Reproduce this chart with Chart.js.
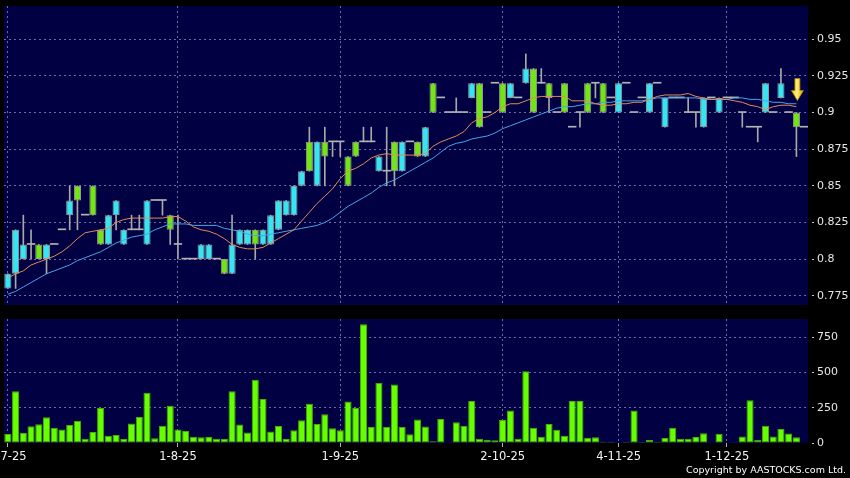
<!DOCTYPE html>
<html>
<head>
<meta charset="utf-8">
<title>Price and volume</title>
<script src="https://cdn.jsdelivr.net/npm/chart.js@4.4.1/dist/chart.umd.min.js"></script>
<style>
  html, body { margin: 0; padding: 0; background: #000; }
  #wrap { position: relative; width: 850px; height: 478px; background: #000; overflow: hidden; }
  #priceChart { position: absolute; left: 0; top: 0; }
  #volumeChart { position: absolute; left: 0; top: 312px; }
  #copyright { position: absolute; right: 4px; top: 464px; line-height: 12px; color: #fff;
               font: 9.5px 'DejaVu Sans', sans-serif; white-space: nowrap; }
</style>
</head>
<body>
<div id="wrap">
  <canvas id="priceChart" width="850" height="312"></canvas>
  <canvas id="volumeChart" width="850" height="166"></canvas>
  <div id="copyright">Copyright by AASTOCKS.com Ltd.</div>
</div>
<script>
// Daily candles (one slot per trading session)
const opens = [
  0.78, 0.79, 0.80, 0.81, 0.81, 0.80, 0.81, 0.82, 0.83, 0.85,
  0.83, 0.85, 0.82, 0.81, 0.83, 0.81, 0.82, 0.82, 0.81, 0.84,
  0.84, 0.83, 0.81, 0.80, 0.80, 0.80, 0.80, 0.80, 0.80, 0.79,
  0.81, 0.81, 0.82, 0.81, 0.81, 0.82, 0.83, 0.83, 0.85, 0.88,
  0.85, 0.88, 0.88, 0.88, 0.87, 0.88, 0.88, 0.88, 0.86, 0.86,
  0.88, 0.86, 0.88, 0.88, 0.87, 0.92, 0.91, 0.90, 0.90, 0.90,
  0.91, 0.92, 0.90, 0.92, 0.92, 0.91, 0.91, 0.92, 0.93, 0.92,
  0.92, 0.90, 0.92, 0.89, 0.90, 0.92, 0.92, 0.92, 0.91, 0.90,
  0.92, 0.90, 0.91, 0.90, 0.92, 0.89, 0.91, 0.91, 0.90, 0.90,
  0.89, 0.91, 0.90, 0.91, 0.91, 0.90, 0.89, 0.89, 0.90, 0.90,
  0.91, 0.90, 0.90, 0.89
];
const closes = [
  0.79, 0.82, 0.81, 0.81, 0.80, 0.81, 0.81, 0.82, 0.84, 0.84,
  0.83, 0.83, 0.81, 0.83, 0.84, 0.82, 0.82, 0.82, 0.84, 0.84,
  0.84, 0.82, 0.81, 0.80, 0.80, 0.81, 0.81, 0.80, 0.79, 0.81,
  0.82, 0.82, 0.81, 0.82, 0.83, 0.84, 0.84, 0.85, 0.86, 0.86,
  0.88, 0.87, 0.88, 0.88, 0.85, 0.87, 0.88, 0.88, 0.87, 0.86,
  0.86, 0.88, 0.88, 0.87, 0.89, 0.90, 0.91, 0.90, 0.90, 0.90,
  0.92, 0.89, 0.90, 0.92, 0.90, 0.92, 0.91, 0.93, 0.90, 0.92,
  0.91, 0.90, 0.90, 0.89, 0.90, 0.90, 0.92, 0.90, 0.91, 0.92,
  0.92, 0.90, 0.91, 0.92, 0.92, 0.91, 0.91, 0.91, 0.90, 0.90,
  0.91, 0.91, 0.91, 0.91, 0.91, 0.90, 0.89, 0.89, 0.92, 0.90,
  0.92, 0.90, 0.89, 0.89
];
const highs = [
  0.79, 0.82, 0.83, 0.82, 0.81, 0.81, 0.81, 0.82, 0.85, 0.85,
  0.83, 0.85, 0.82, 0.83, 0.84, 0.82, 0.83, 0.83, 0.84, 0.84,
  0.84, 0.83, 0.83, 0.80, 0.80, 0.81, 0.81, 0.80, 0.80, 0.83,
  0.82, 0.82, 0.82, 0.82, 0.83, 0.84, 0.84, 0.85, 0.86, 0.89,
  0.88, 0.89, 0.88, 0.88, 0.87, 0.88, 0.89, 0.89, 0.87, 0.89,
  0.88, 0.88, 0.88, 0.88, 0.89, 0.92, 0.91, 0.90, 0.91, 0.90,
  0.92, 0.92, 0.90, 0.92, 0.92, 0.92, 0.91, 0.94, 0.93, 0.93,
  0.92, 0.90, 0.92, 0.89, 0.90, 0.92, 0.92, 0.92, 0.91, 0.92,
  0.92, 0.90, 0.91, 0.92, 0.92, 0.91, 0.91, 0.91, 0.91, 0.90,
  0.91, 0.91, 0.91, 0.91, 0.91, 0.90, 0.89, 0.89, 0.92, 0.90,
  0.93, 0.90, 0.90, 0.89
];
const lows = [
  0.78, 0.78, 0.80, 0.80, 0.80, 0.79, 0.81, 0.82, 0.82, 0.82,
  0.83, 0.83, 0.81, 0.81, 0.82, 0.81, 0.82, 0.82, 0.81, 0.84,
  0.83, 0.81, 0.80, 0.80, 0.80, 0.80, 0.80, 0.80, 0.79, 0.79,
  0.81, 0.81, 0.80, 0.81, 0.81, 0.82, 0.83, 0.83, 0.85, 0.86,
  0.85, 0.85, 0.87, 0.87, 0.85, 0.87, 0.88, 0.88, 0.86, 0.85,
  0.85, 0.86, 0.88, 0.87, 0.87, 0.90, 0.91, 0.90, 0.90, 0.90,
  0.91, 0.89, 0.90, 0.92, 0.90, 0.91, 0.91, 0.92, 0.90, 0.92,
  0.90, 0.90, 0.90, 0.89, 0.89, 0.90, 0.91, 0.90, 0.91, 0.90,
  0.92, 0.90, 0.91, 0.90, 0.92, 0.89, 0.91, 0.91, 0.90, 0.89,
  0.89, 0.91, 0.90, 0.91, 0.91, 0.89, 0.89, 0.88, 0.90, 0.90,
  0.91, 0.90, 0.87, 0.89
];
// moving averages as drawn (orange = short, blue = long)
const maShort = [
  0.787, 0.790, 0.792, 0.796, 0.798, 0.800, 0.802, 0.805, 0.809, 0.814,
  0.818, 0.819, 0.820, 0.821, 0.825, 0.827, 0.828, 0.828, 0.828, 0.828,
  0.828, 0.829, 0.829, 0.826, 0.822, 0.820, 0.819, 0.817, 0.814, 0.810,
  0.808, 0.807, 0.807, 0.808, 0.811, 0.814, 0.817, 0.820, 0.826, 0.832,
  0.838, 0.843, 0.848, 0.855, 0.860, 0.862, 0.865, 0.869, 0.871, 0.872,
  0.871, 0.871, 0.871, 0.871, 0.872, 0.877, 0.880, 0.882, 0.884, 0.887,
  0.893, 0.896, 0.897, 0.900, 0.904, 0.906, 0.906, 0.908, 0.910, 0.911,
  0.911, 0.911, 0.911, 0.908, 0.908, 0.908, 0.906, 0.905, 0.905, 0.906,
  0.906, 0.907, 0.907, 0.909, 0.911, 0.912, 0.912, 0.912, 0.913, 0.911,
  0.910, 0.909, 0.909, 0.909, 0.908, 0.907, 0.905, 0.904, 0.902, 0.904,
  0.905, 0.905, 0.904, null
];
const maLong = [
  0.776, 0.778, 0.781, 0.784, 0.787, 0.790, 0.792, 0.794, 0.796, 0.799,
  0.801, 0.803, 0.805, 0.808, 0.811, 0.813, 0.815, 0.816, 0.817, 0.820,
  0.822, 0.824, 0.824, 0.824, 0.823, 0.823, 0.823, 0.823, 0.821, 0.820,
  0.819, 0.817, 0.816, 0.816, 0.817, 0.818, 0.819, 0.820, 0.821, 0.822,
  0.823, 0.825, 0.828, 0.832, 0.836, 0.839, 0.842, 0.845, 0.849, 0.852,
  0.854, 0.857, 0.860, 0.863, 0.866, 0.869, 0.873, 0.877, 0.879, 0.880,
  0.882, 0.883, 0.884, 0.886, 0.889, 0.891, 0.893, 0.895, 0.897, 0.899,
  0.901, 0.903, 0.904, 0.904, 0.905, 0.906, 0.906, 0.907, 0.907, 0.908,
  0.908, 0.908, 0.908, 0.909, 0.910, 0.910, 0.910, 0.910, 0.910, 0.910,
  0.909, 0.909, 0.909, 0.909, 0.910, 0.910, 0.909, 0.909, 0.908, 0.907,
  0.907, 0.906, 0.906, null
];
// volume in thousands of shares
const volumes = [
  64, 368, 71, 119, 133, 183, 109, 95, 128, 157,
  31, 78, 249, 52, 57, 28, 138, 185, 356, 33,
  123, 264, 95, 85, 45, 40, 43, 31, 28, 368,
  131, 74, 449, 313, 81, 121, 28, 90, 161, 278,
  135, 204, 104, 90, 294, 249, 843, 114, 427, 114,
  415, 114, 62, 166, 117, 12, 171, 3, 148, 122,
  298, 31, 23, 19, 164, 230, 31, 509, 108, 45,
  134, 94, 52, 298, 298, 38, 40, 9, 9, 2,
  9, 230, 7, 21, 9, 35, 108, 31, 31, 42,
  70, 0, 66, 4, 1, 47, 303, 23, 122, 47,
  99, 68, 40, 0
];
// date labels under the volume panel (slot index -> text)
const tickIndex = [0, 22, 43, 64, 79, 93];
const tickLabels = ['2-7-25', '1-8-25', '1-9-25', '2-10-25', '4-11-25', '1-12-25'];
const priceTicks = [0.775, 0.8, 0.825, 0.85, 0.875, 0.9, 0.925, 0.95];
const volumeTicks = [0, 250, 500, 750];

const slots = opens.map((_, i) => String(i));

const NAVY = '#000042';
const GRID = '#6a6aa6';
const UP = '#35e6f2';
const DOWN = '#74e514';

Chart.defaults.font.family = "'DejaVu Sans', sans-serif";
Chart.defaults.animation = false;

const plotBg = {
    id: 'plotBg',
    beforeDraw(chart) {
        const { ctx, chartArea: a } = chart;
        ctx.save();
        ctx.fillStyle = NAVY;
        ctx.fillRect(a.left, a.top, a.right - a.left, a.bottom - a.top);
        ctx.restore();
    }
};

// yellow arrow over the last traded candle
const lastArrow = {
    id: 'lastArrow',
    afterDatasetsDraw(chart) {
        let i = volumes.length - 1;
        while (i > 0 && !volumes[i]) i--;
        const { ctx, scales } = chart;
        const x = scales.x.getPixelForValue(i) + 1;
        const tip = scales.y.getPixelForValue(highs[i]) - 12;
        const top = tip - 22;
        const neck = tip - 10;
        ctx.save();
        const g = ctx.createLinearGradient(x - 6, 0, x + 6, 0);
        g.addColorStop(0, '#f5c000');
        g.addColorStop(0.45, '#fff27a');
        g.addColorStop(1, '#e0a000');
        ctx.beginPath();
        ctx.moveTo(x - 2.5, top);
        ctx.lineTo(x + 2.5, top);
        ctx.lineTo(x + 2.5, neck);
        ctx.lineTo(x + 6, neck);
        ctx.lineTo(x, tip);
        ctx.lineTo(x - 6, neck);
        ctx.lineTo(x - 2.5, neck);
        ctx.closePath();
        ctx.fillStyle = g;
        ctx.fill();
        ctx.strokeStyle = '#b98600';
        ctx.lineWidth = 0.8;
        ctx.stroke();
        ctx.restore();
    }
};

const dateLabels = {
    id: 'dateLabels',
    afterDraw(chart) {
        const { ctx, chartArea, scales } = chart;
        ctx.save();
        ctx.fillStyle = '#f2f2f2';
        ctx.font = "11.5px 'DejaVu Sans', sans-serif";
        ctx.textAlign = 'center';
        ctx.textBaseline = 'middle';
        tickIndex.forEach((v, k) => {
            ctx.fillText(tickLabels[k], scales.x.getPixelForValue(v), chartArea.bottom + 14.5);
        });
        ctx.restore();
    }
};

function xAxis(withTicks) {
    return {
        type: 'category',
        offset: true,
        afterBuildTicks: s => { s.ticks = tickIndex.map(v => ({ value: v })); },
        grid: { color: GRID, offset: false, drawTicks: withTicks, tickLength: 4, tickColor: '#b0b0b0' },
        border: { display: false, dash: [2, 3] },
        ticks: { display: false }
    };
}

function yAxis(min, max, values, hideZero) {
    return {
        position: 'right',
        min: min,
        max: max,
        afterBuildTicks: s => { s.ticks = values.map(v => ({ value: v })); },
        afterFit: s => { s.width = 42; s.paddingTop = 0; s.paddingBottom = 0; },
        grid: {
            color: c => (hideZero && c.tick && c.tick.value === 0) ? 'rgba(0,0,0,0)' : GRID,
            tickLength: 7,
            tickColor: '#c8c8c8',
            tickBorderDash: [0, 4, 2, 40]
        },
        border: { display: false, dash: [2, 3] },
        ticks: {
            color: '#e6e6e6',
            padding: 2,
            font: { size: 11 },
            callback: v => String(v)
        }
    };
}

const bodies = opens.map((o, i) => o !== closes[i] ? [o, closes[i]] : null);
const dojis = opens.map((o, i) => o === closes[i] ? [o, o] : null);
const wicks = lows.map((l, i) => highs[i] > l ? [l, highs[i]] : null);

new Chart(document.getElementById('priceChart'), {
    type: 'bar',
    data: {
        labels: slots,
        datasets: [
            { type: 'line', data: maShort, borderColor: '#e48a58', borderWidth: 1, pointRadius: 0, order: 0 },
            { type: 'line', data: maLong, borderColor: '#45a6e8', borderWidth: 1, pointRadius: 0, order: 0 },
            {
                data: bodies,
                backgroundColor: c => closes[c.dataIndex] > opens[c.dataIndex] ? UP : DOWN,
                borderColor: '#9a9a9a',
                borderWidth: 1,
                borderSkipped: false,
                barPercentage: 0.92,
                categoryPercentage: 1,
                grouped: false,
                order: 1
            },
            {
                data: dojis,
                backgroundColor: '#b4b4b4',
                minBarLength: 1,
                barPercentage: 1,
                categoryPercentage: 1,
                grouped: false,
                order: 2
            },
            {
                data: wicks,
                backgroundColor: '#a8a8a8',
                barThickness: 1,
                grouped: false,
                order: 3
            }
        ]
    },
    options: {
        responsive: false,
        devicePixelRatio: 1,
        layout: { padding: { left: 4, top: 6, right: 0, bottom: 7 } },
        plugins: { legend: { display: false }, tooltip: { enabled: false } },
        scales: {
            x: xAxis(false),
            y: yAxis(0.7687, 0.9727, priceTicks, false)
        }
    },
    plugins: [plotBg, lastArrow]
});

new Chart(document.getElementById('volumeChart'), {
    type: 'bar',
    data: {
        labels: slots,
        datasets: [{
            data: volumes,
            backgroundColor: '#66ff00',
            borderColor: '#44b000',
            borderWidth: 1,
            borderSkipped: false,
            barPercentage: 0.92,
            categoryPercentage: 1
        }]
    },
    options: {
        responsive: false,
        devicePixelRatio: 1,
        layout: { padding: { left: 4, top: 7, right: 0, bottom: 31 } },
        plugins: { legend: { display: false }, tooltip: { enabled: false } },
        scales: {
            x: xAxis(true),
            y: yAxis(0, 880, volumeTicks, true)
        }
    },
    plugins: [plotBg, dateLabels]
});
</script>
</body>
</html>
